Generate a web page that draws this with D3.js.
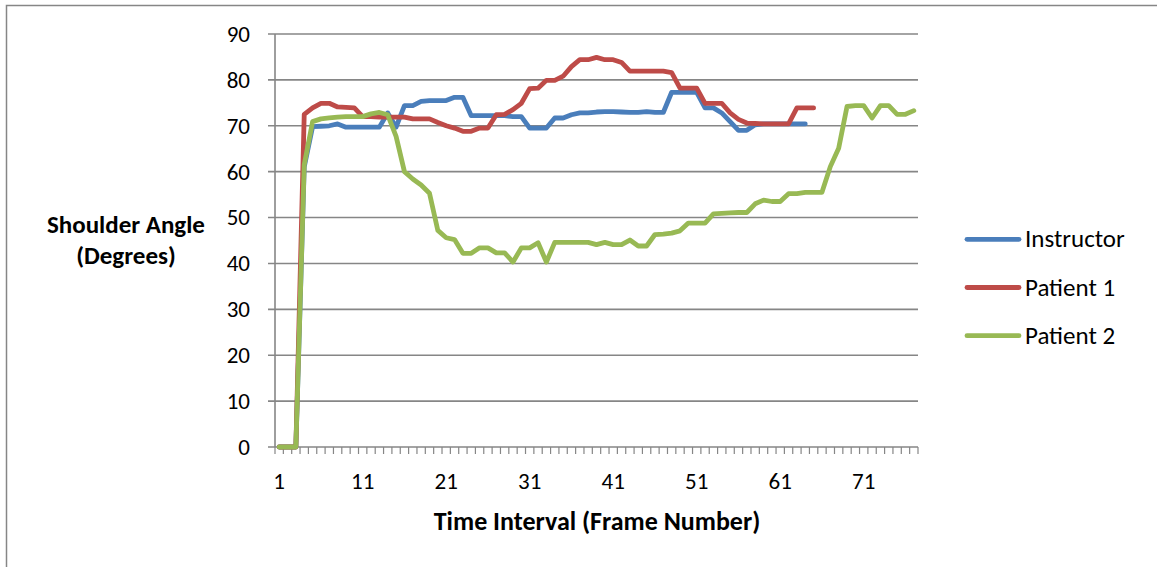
<!DOCTYPE html>
<html>
<head>
<meta charset="utf-8">
<script src="https://cdn.jsdelivr.net/npm/d3@7"></script>
<style>
  html, body { margin: 0; padding: 0; background: #fff; }
  svg { display: block; }
  text { font-family: Carlito, Calibri, Lato, "Open Sans", sans-serif; fill: #000; }
</style>
</head>
<body>
<svg id="chart" width="1157" height="567"></svg>
<script>
// Frame numbers along the x axis
const frames = d3.range(1, 78);

// Shoulder angle (degrees) per frame
const instructor = [
  0, 0, 0, 61, 69.8, 69.9, 70.0, 70.4, 69.7, 69.7,
  69.7, 69.7, 69.7, 72.8, 69.7, 74.4, 74.4, 75.3, 75.5, 75.5,
  75.5, 76.2, 76.2, 72.2, 72.2, 72.2, 72.2, 72.2, 72.0, 72.0,
  69.5, 69.5, 69.5, 71.7, 71.7, 72.4, 72.8, 72.8, 73.0, 73.1,
  73.1, 73.0, 72.9, 72.9, 73.1, 72.9, 72.9, 77.3, 77.3, 77.3,
  77.3, 73.9, 73.9, 72.8, 70.9, 69.0, 69.0, 70.2, 70.4, 70.4,
  70.4, 70.4, 70.4, 70.4
];
const patient1 = [
  0, 0, 0, 72.5, 73.9, 74.9, 74.9, 74.1, 74.0, 73.9,
  72.0, 72.0, 71.9, 71.9, 71.9, 71.9, 71.5, 71.5, 71.5, 70.7,
  70.0, 69.5, 68.8, 68.8, 69.5, 69.5, 72.4, 72.5, 73.5, 74.9,
  78.1, 78.2, 79.9, 79.9, 80.8, 82.9, 84.4, 84.4, 84.9, 84.4,
  84.4, 83.8, 81.9, 81.9, 81.9, 81.9, 81.9, 81.6, 78.2, 78.2,
  78.2, 74.9, 74.9, 74.9, 72.8, 71.4, 70.6, 70.5, 70.4, 70.4,
  70.4, 70.4, 73.9, 73.9, 73.9
];
const patient2 = [
  0, 0, 0, 61.5, 70.9, 71.5, 71.7, 71.9, 72.0, 72.0,
  72.0, 72.6, 72.9, 72.4, 67.7, 60.0, 58.4, 57.1, 55.3, 47.2,
  45.6, 45.2, 42.2, 42.2, 43.4, 43.4, 42.3, 42.3, 40.3, 43.4,
  43.4, 44.5, 40.3, 44.6, 44.6, 44.6, 44.6, 44.6, 44.1, 44.6,
  44.1, 44.1, 45.1, 43.8, 43.8, 46.3, 46.4, 46.6, 47.1, 48.8,
  48.8, 48.8, 50.8, 50.9, 51.0, 51.1, 51.1, 53.0, 53.8, 53.5,
  53.5, 55.2, 55.2, 55.5, 55.5, 55.5, 61.1, 65.1, 74.2, 74.4,
  74.4, 71.7, 74.4, 74.4, 72.5, 72.5, 73.3
];

const seriesNames = ["Instructor", "Patient 1", "Patient 2"];
const seriesValues = [instructor, patient1, patient2];
const seriesColors = ["#4A7EBB", "#BE4B48", "#98B954"];

const yTicks = [0, 10, 20, 30, 40, 50, 60, 70, 80, 90];
const xLabelFrames = [1, 11, 21, 31, 41, 51, 61, 71];

const svg = d3.select("#chart");

// chart area border
svg.append("path")
  .attr("d", "M6.5,567 L6.5,5.5 L1157,5.5")
  .attr("fill", "none")
  .attr("stroke", "#868686")
  .attr("stroke-width", 1.5);

const x = d3.scaleBand().domain(frames).range([275, 918]).paddingInner(0).paddingOuter(0);
const y = d3.scaleLinear().domain([0, 90]).range([447, 34]);
const cx = f => x(f) + x.bandwidth() / 2;

const gridColor = "#868686";

// y tick labels
const yAxis = svg.append("g")
  .attr("transform", "translate(275,0)")
  .call(d3.axisLeft(y).tickValues(yTicks).tickSize(0).tickPadding(25));
yAxis.select(".domain").remove();
yAxis.selectAll("text").style("font-size", "23px").attr("fill", "#000");

// horizontal gridlines (extending left as tick marks)
svg.append("g").selectAll("line.grid")
  .data(yTicks)
  .join("line")
  .attr("x1", 268).attr("x2", 918)
  .attr("y1", d => y(d)).attr("y2", d => y(d))
  .attr("stroke", gridColor)
  .attr("stroke-width", 1.6);

// vertical axis line
svg.append("line")
  .attr("x1", 275).attr("x2", 275)
  .attr("y1", y(90)).attr("y2", y(0))
  .attr("stroke", gridColor).attr("stroke-width", 1.6);

// category tick marks between frames
const boundaries = frames.map(f => x(f)).concat([x(frames[frames.length - 1]) + x.bandwidth()]);
svg.append("g").selectAll("line")
  .data(boundaries)
  .join("line")
  .attr("x1", d => d).attr("x2", d => d)
  .attr("y1", y(0)).attr("y2", y(0) + 7)
  .attr("stroke", gridColor).attr("stroke-width", 1.2);

// x tick labels
svg.append("g").selectAll("text")
  .data(xLabelFrames)
  .join("text")
  .attr("x", d => cx(d))
  .attr("y", 489)
  .attr("text-anchor", "middle")
  .style("font-size", "23px")
  .text(d => d);

// series lines
const line = d3.line()
  .x((d, i) => cx(frames[i]))
  .y(d => y(d));

svg.append("g").selectAll("path")
  .data(seriesValues)
  .join("path")
  .attr("d", d => line(d))
  .attr("fill", "none")
  .attr("stroke", (d, i) => seriesColors[i])
  .attr("stroke-width", 4.8)
  .attr("stroke-linejoin", "round")
  .attr("stroke-linecap", "round");

// axis titles
svg.append("text")
  .attr("x", 597).attr("y", 530)
  .attr("text-anchor", "middle")
  .style("font-size", "26px").style("font-weight", "bold")
  .text("Time Interval (Frame Number)");

svg.append("text")
  .attr("x", 126).attr("y", 233)
  .attr("text-anchor", "middle")
  .style("font-size", "25px").style("font-weight", "bold")
  .text("Shoulder Angle");
svg.append("text")
  .attr("x", 126).attr("y", 264)
  .attr("text-anchor", "middle")
  .style("font-size", "25px").style("font-weight", "bold")
  .text("(Degrees)");

// legend
const legend = svg.append("g").selectAll("g")
  .data(seriesNames)
  .join("g")
  .attr("transform", (d, i) => `translate(0,${239.3 + i * 48.2})`);
legend.append("line")
  .attr("x1", 967).attr("x2", 1019)
  .attr("y1", 0).attr("y2", 0)
  .attr("stroke", (d, i) => seriesColors[i])
  .attr("stroke-width", 4.8)
  .attr("stroke-linecap", "round");
legend.append("text")
  .attr("x", 1025).attr("y", 8)
  .style("font-size", "25px")
  .text(d => d);
</script>
</body>
</html>
